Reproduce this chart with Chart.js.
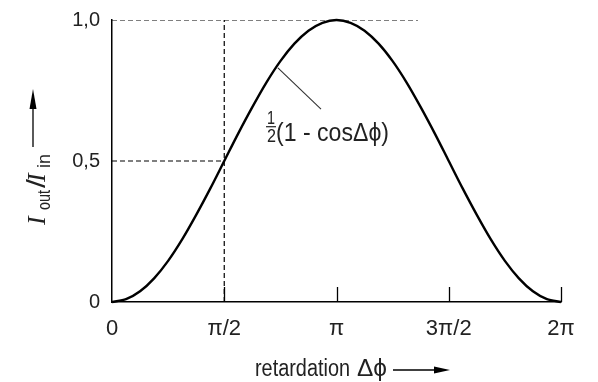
<!DOCTYPE html>
<html><head><meta charset="utf-8">
<script src="https://cdn.jsdelivr.net/npm/chart.js@4"></script>
<style>html,body{margin:0;padding:0;background:#fff}</style>
</head><body>
<canvas id="c" width="598" height="382" style="width:598px;height:382px;display:block"></canvas>
<script>
// x in units of π
const xValues = [0,0.0625,0.125,0.1875,0.25,0.3125,0.375,0.4375,0.5,0.5625,0.625,0.6875,0.75,0.8125,0.875,0.9375,1,
  1.0625,1.125,1.1875,1.25,1.3125,1.375,1.4375,1.5,1.5625,1.625,1.6875,1.75,1.8125,1.875,1.9375,2];
const yValues = [0,0.010,0.038,0.084,0.146,0.222,0.309,0.402,0.5,0.598,0.691,0.778,0.854,0.916,0.962,0.990,1,
  0.990,0.962,0.916,0.854,0.778,0.691,0.598,0.5,0.402,0.309,0.222,0.146,0.084,0.038,0.010,0];
const xTickValues = [0,0.5,1,1.5,2];
const xTickLabels = ['0','π/2','π','3π/2','2π'];
const yTickValues = [0,0.5,1];
const yTickLabels = ['0','0,5','1,0'];
const guideTopX = [0,1.363], guideTopY = [1,1];
const guideMidX = [0,0.5], guideMidY = [0.5,0.5];
const guideVertX = [0.5,0.5], guideVertY = [0,1];
const leaderX = [0.739,0.931], leaderY = [0.83,0.684];

const SANS = '"Liberation Sans",Arial,sans-serif';
const SERIF = '"Liberation Serif","Times New Roman",serif';
const TXT = '#222';

function pts(xs, ys){ return xs.map((x,i)=>({x, y:ys[i]})); }
const dash = {borderColor:'#000', borderWidth:1.2, borderDash:[5,3], pointRadius:0, tension:0, fill:false};

// draw condensed text fitted to a target width
function fitText(ctx, txt, x, y, font, width){
  ctx.font = font;
  const w = ctx.measureText(txt).width;
  ctx.save(); ctx.translate(x, y); ctx.scale(width/w, 1); ctx.fillText(txt, 0, 0); ctx.restore();
}

const deco = {
  id:'deco',
  afterDraw(chart){
    const ctx = chart.ctx, xs = chart.scales.x, ys = chart.scales.y;
    ctx.save();
    // inward x ticks
    ctx.strokeStyle='#000'; ctx.lineWidth=1.3;
    const yb = ys.getPixelForValue(0);
    xTickValues.slice(1).forEach(v=>{
      const px = Math.round(xs.getPixelForValue(v))+0.5;
      ctx.beginPath(); ctx.moveTo(px, yb); ctx.lineTo(px, yb-15); ctx.stroke();
    });
    // leader line
    ctx.lineWidth=1.1; ctx.strokeStyle='#333';
    const lx0=xs.getPixelForValue(leaderX[0]), ly0=ys.getPixelForValue(leaderY[0]);
    const lx1=xs.getPixelForValue(leaderX[1]), ly1=ys.getPixelForValue(leaderY[1]);
    ctx.beginPath(); ctx.moveTo(lx0,ly0); ctx.lineTo(lx1,ly1); ctx.stroke();
    // curve label
    ctx.fillStyle=TXT; ctx.textBaseline='alphabetic'; ctx.textAlign='left';
    const fx = lx1-54, by = ly1+32;
    fitText(ctx, '1', fx, by-17, '19px '+SANS, 8);
    fitText(ctx, '2', fx, by+1, '19px '+SANS, 9);
    ctx.fillRect(fx-1, by-15, 10, 1.2);
    fitText(ctx, '(1 - cosΔϕ)', fx+9, by, '26px '+SANS, 113);
    // x title
    ctx.fillStyle=TXT;
    fitText(ctx, 'retardation', 255, 376, '23px '+SANS, 95);
    fitText(ctx, 'Δϕ', 357, 376, '23px '+SANS, 30);
    const ax0 = 393, ax1 = 450, ay = 370;
    ctx.strokeStyle='#000'; ctx.lineWidth=1.3;
    ctx.beginPath(); ctx.moveTo(ax0, ay); ctx.lineTo(ax1-12, ay); ctx.stroke();
    ctx.fillStyle='#000';
    ctx.beginPath(); ctx.moveTo(ax1, ay); ctx.lineTo(ax1-16, ay-3.5); ctx.lineTo(ax1-16, ay+3.5); ctx.closePath(); ctx.fill();
    // y title (rotated)
    ctx.translate(45, 227); ctx.rotate(-Math.PI/2);
    ctx.fillStyle=TXT;
    ctx.font='italic 26px '+SERIF; ctx.fillText('I', 2, 0);
    fitText(ctx, 'out', 17, 5, '19px '+SANS, 20);
    fitText(ctx, '/', 39, 0, '25px '+SANS, 9);
    ctx.font='italic 26px '+SERIF; ctx.fillText('I', 45, 0);
    fitText(ctx, 'in', 59, 5, '19px '+SANS, 14);
    // arrow
    ctx.strokeStyle='#000'; ctx.fillStyle='#000'; ctx.lineWidth=1.3;
    ctx.beginPath(); ctx.moveTo(80, -12); ctx.lineTo(122, -12); ctx.stroke();
    ctx.beginPath(); ctx.moveTo(138, -12); ctx.lineTo(118, -15.5); ctx.lineTo(118, -8.5); ctx.closePath(); ctx.fill();
    ctx.restore();
  }
};

new Chart(document.getElementById('c'), {
  type:'line',
  data:{datasets:[
    Object.assign({data:pts(guideTopX,guideTopY)}, dash),
    Object.assign({data:pts(guideMidX,guideMidY)}, dash),
    Object.assign({data:pts(guideVertX,guideVertY)}, dash),
    {data:pts(xValues,yValues), borderColor:'#000', borderWidth:2.4, pointRadius:0, tension:0.3, fill:false, clip:false}
  ]},
  options:{
    responsive:false, animation:false, devicePixelRatio:1,
    layout:{padding:{left:0,right:37,top:20,bottom:0}},
    plugins:{legend:{display:false}, tooltip:{enabled:false}},
    scales:{
      x:{type:'linear', min:0, max:2,
        afterBuildTicks:s=>{s.ticks = xTickValues.map(v=>({value:v}));},
        afterFit:s=>{s.height=80; s.paddingLeft=0; s.paddingRight=0;},
        grid:{display:false, drawTicks:false},
        border:{display:true, color:'#000', width:1.5},
        ticks:{padding:14, color:TXT, font:{family:SANS, size:22}, maxRotation:0,
          callback:(v,i)=>xTickLabels[i]}
      },
      y:{type:'linear', min:0, max:1,
        afterBuildTicks:s=>{s.ticks = yTickValues.map(v=>({value:v}));},
        afterFit:s=>{s.width=112; s.paddingTop=0; s.paddingBottom=0;},
        grid:{display:false, drawTicks:false},
        border:{display:true, color:'#000', width:1.5},
        ticks:{padding:12, color:TXT, font:{family:SANS, size:20},
          callback:(v,i)=>yTickLabels[i]}
      }
    }
  },
  plugins:[deco]
});
</script>
</body></html>
